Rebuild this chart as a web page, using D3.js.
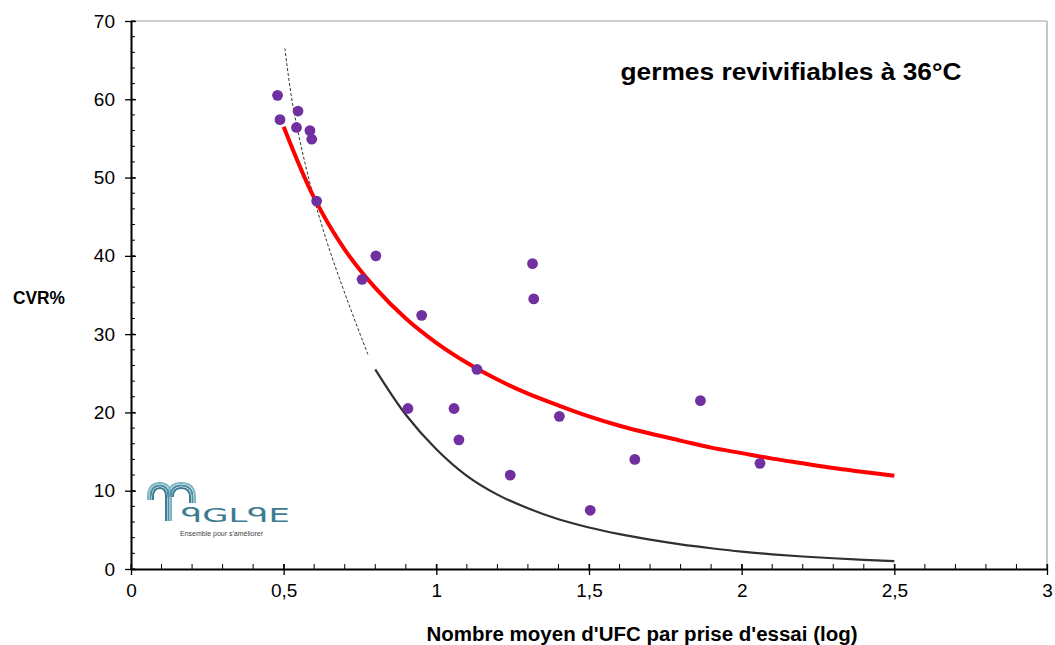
<!DOCTYPE html>
<html>
<head>
<meta charset="utf-8">
<script src="https://cdn.jsdelivr.net/npm/d3@7"></script>
<style>
  html, body { margin: 0; padding: 0; background: #fff; }
  svg { display: block; font-family: "Liberation Sans", Arial, sans-serif; }
</style>
</head>
<body>
<svg id="chart" width="1055" height="645"></svg>
<script>
// ---- data ----
const pointsX = [0.480, 0.488, 0.547, 0.542, 0.586, 0.592, 0.608, 0.757, 0.802, 0.952, 0.907, 1.058, 1.074, 1.133, 1.242, 1.315, 1.319, 1.403, 1.504, 1.650, 1.865, 2.060];
const pointsY = [60.5, 57.4, 58.5, 56.4, 56.0, 54.9, 47.0, 37.0, 40.0, 32.4, 20.5, 20.5, 16.5, 25.5, 12.0, 39.0, 34.5, 19.5, 7.5, 14.0, 21.5, 13.5];

const redX = [0.5, 0.6, 0.7, 0.8, 0.9, 1.0, 1.1, 1.2, 1.3, 1.4, 1.5, 1.6, 1.7, 1.8, 1.9, 2.0, 2.1, 2.2, 2.3, 2.4, 2.5];
const redY = [56.5, 47.4, 40.8, 35.9, 32.0, 28.9, 26.35, 24.2, 22.4, 20.9, 19.5, 18.3, 17.3, 16.4, 15.5, 14.8, 14.1, 13.5, 12.9, 12.4, 11.9];

const blackX = [0.8, 0.9, 1.0, 1.1, 1.2, 1.3, 1.4, 1.5, 1.6, 1.7, 1.8, 1.9, 2.0, 2.1, 2.2, 2.3, 2.4, 2.5];
const blackY = [25.5, 19.7, 15.3, 11.9, 9.5, 7.75, 6.35, 5.3, 4.45, 3.75, 3.15, 2.65, 2.22, 1.88, 1.6, 1.37, 1.17, 1.0];

const dashX = [0.504, 0.531, 0.586, 0.640, 0.706, 0.777];
const dashY = [66.5, 59.0, 49.3, 42.0, 34.6, 27.3];

const xTicks = [0, 0.5, 1, 1.5, 2, 2.5, 3];
const xTickLabels = ["0", "0,5", "1", "1,5", "2", "2,5", "3"];
const yTicks = [0, 10, 20, 30, 40, 50, 60, 70];

const title = "germes revivifiables à 36°C";
const xTitle = "Nombre moyen d'UFC par prise d'essai (log)";
const yTitle = "CVR%";

// ---- layout ----
const svg = d3.select("#chart");
const L = 131, R = 1047, T = 21, B = 569;
const x = d3.scaleLinear().domain([0, 3]).range([L, R]);
const y = d3.scaleLinear().domain([0, 70]).range([B, T]);

// frame (top/right gray)
svg.append("line").attr("x1", L).attr("x2", R).attr("y1", T).attr("y2", T)
  .attr("stroke", "#a0a0a0").attr("stroke-width", 1.2);
svg.append("line").attr("x1", R).attr("x2", R).attr("y1", T).attr("y2", B)
  .attr("stroke", "#a0a0a0").attr("stroke-width", 1.2);

// minor ticks
const g = svg.append("g");
const xMinor = d3.range(0, 31).map(i => i / 10);
g.selectAll(".xminor").data(xMinor).join("line")
  .attr("x1", d => x(d)).attr("x2", d => x(d))
  .attr("y1", B).attr("y2", B - 5)
  .attr("stroke", "#000").attr("stroke-width", 1);
const yMinor = d3.range(0, 36).map(i => i * 2);
g.selectAll(".yminor").data(yMinor).join("line")
  .attr("x1", L).attr("x2", L + 4)
  .attr("y1", d => y(d)).attr("y2", d => y(d))
  .attr("stroke", "#000").attr("stroke-width", 1);

// axes with d3 axis generators
const xAxis = d3.axisBottom(x).tickValues(xTicks)
  .tickFormat((d, i) => xTickLabels[i]).tickSizeInner(6).tickSizeOuter(0).tickPadding(9);
const gx = svg.append("g").attr("transform", `translate(0,${B})`).call(xAxis);
gx.select(".domain").attr("stroke", "#000").attr("stroke-width", 2);
gx.selectAll(".tick line").attr("stroke", "#000").attr("stroke-width", 1.3).attr("y1", -5);
gx.selectAll(".tick text").attr("font-size", 19).attr("fill", "#000")
  .attr("font-family", "Liberation Sans, Arial, sans-serif");

const yAxis = d3.axisLeft(y).tickValues(yTicks).tickSizeInner(6).tickSizeOuter(0).tickPadding(10);
const gy = svg.append("g").attr("transform", `translate(${L},0)`).call(yAxis);
gy.select(".domain").attr("stroke", "#000").attr("stroke-width", 2);
gy.selectAll(".tick line").attr("stroke", "#000").attr("stroke-width", 1.3).attr("x2", 5).attr("x1", -6);
gy.selectAll(".tick text").attr("font-size", 19).attr("fill", "#000")
  .attr("font-family", "Liberation Sans, Arial, sans-serif");

// ---- curves ----
const line = d3.line().x(d => x(d[0])).y(d => y(d[1])).curve(d3.curveCatmullRom.alpha(0.5));

svg.append("path").datum(dashX.map((v, i) => [v, dashY[i]]))
  .attr("d", line).attr("fill", "none").attr("stroke", "#333")
  .attr("stroke-width", 1).attr("stroke-dasharray", "3,2");

svg.append("path").datum(blackX.map((v, i) => [v, blackY[i]]))
  .attr("d", line).attr("fill", "none").attr("stroke", "#303030")
  .attr("stroke-width", 2.2);

svg.append("path").datum(redX.map((v, i) => [v, redY[i]]))
  .attr("d", line).attr("fill", "none").attr("stroke", "#ff0000")
  .attr("stroke-width", 4);

// ---- points ----
svg.append("g").selectAll("circle").data(pointsX.map((v, i) => [v, pointsY[i]])).join("circle")
  .attr("cx", d => x(d[0])).attr("cy", d => y(d[1])).attr("r", 5.4)
  .attr("fill", "#7030a0");

// ---- texts ----
svg.append("text").attr("x", 791).attr("y", 80).attr("text-anchor", "middle")
  .attr("font-size", 23).attr("font-weight", "bold").attr("fill", "#000")
  .attr("textLength", 341).attr("lengthAdjust", "spacingAndGlyphs").text(title);

svg.append("text").attr("x", 642).attr("y", 641).attr("text-anchor", "middle")
  .attr("font-size", 20).attr("font-weight", "bold").attr("fill", "#000")
  .attr("textLength", 431).attr("lengthAdjust", "spacingAndGlyphs").text(xTitle);

svg.append("text").attr("x", 13).attr("y", 304)
  .attr("font-size", 19).attr("font-weight", "bold").attr("fill", "#000")
  .attr("textLength", 52).attr("lengthAdjust", "spacingAndGlyphs").text(yTitle);

// ---- logo (drawn approximation) ----
const logo = svg.append("g");
const teal = "#4f8fa3", tealLight = "#7fb7c6";
[[0, tealLight], [2.5, teal], [5, "#3d7b90"]].forEach(([o, c]) => {
  logo.append("path")
    .attr("d", `M${148 + o},${500} L${148 + o},${497} Q${148 + o},${483 + o} ${160},${483 + o} Q${171 - o},${483 + o} ${171 - o},${497} L${171 - o},${521}`)
    .attr("fill", "none").attr("stroke", c).attr("stroke-width", 2);
  logo.append("path")
    .attr("d", `M${168 + o},${497} Q${168 + o},${483 + o} ${181},${483 + o} Q${195 - o},${483 + o} ${195 - o},${497} L${195 - o},${503}`)
    .attr("fill", "none").attr("stroke", c).attr("stroke-width", 2);
});
logo.append("text").attr("x", 181).attr("y", 522).attr("font-size", 19)
  .attr("fill", "#3d7b90").attr("textLength", 109).attr("lengthAdjust", "spacingAndGlyphs")
  .attr("font-family", "DejaVu Sans, sans-serif").text("ᑫGLᑫE");
logo.append("text").attr("x", 180).attr("y", 536).attr("font-size", 6.5)
  .attr("fill", "#444").attr("textLength", 83).attr("lengthAdjust", "spacingAndGlyphs")
  .text("Ensemble pour s'améliorer");
</script>
</body>
</html>
